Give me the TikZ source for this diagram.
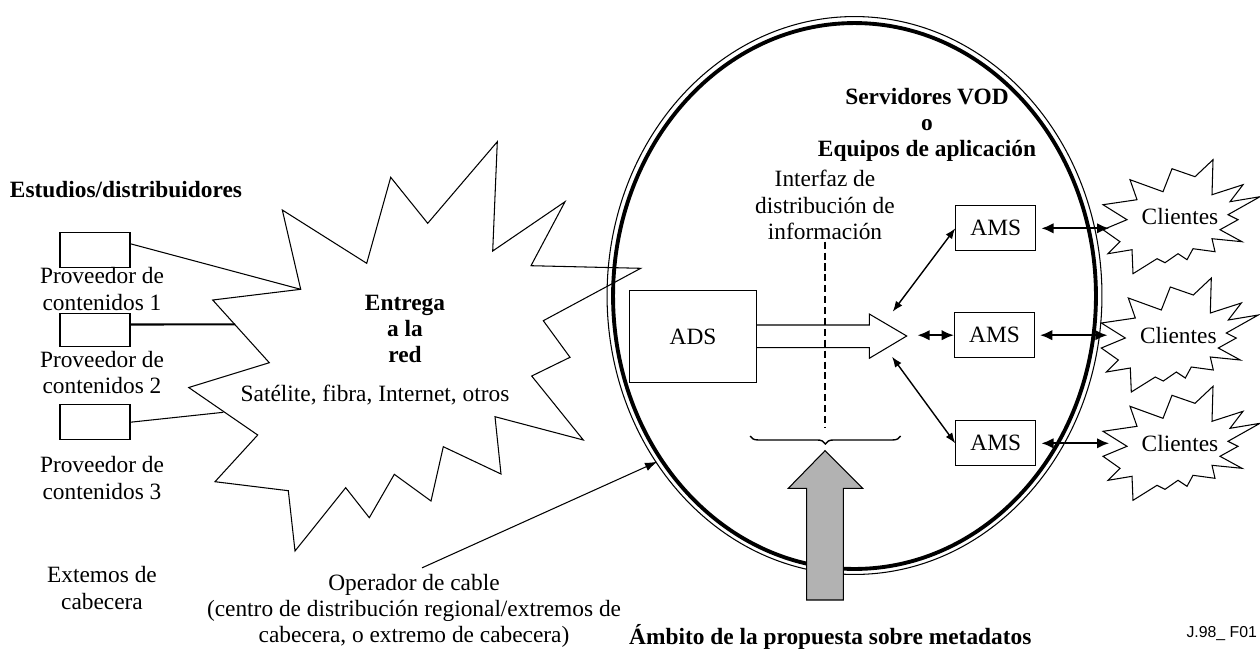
\documentclass[tikz,border=0pt]{standalone}
\usepackage{fontspec}
\setmainfont{Liberation Serif}
\setsansfont{Liberation Sans}
\usetikzlibrary{arrows.meta,decorations.pathreplacing}
\newcommand{\figfont}{\fontsize{13.3pt}{15pt}\selectfont}

\tikzset{
  fine/.style={line width=0.6pt},
  box/.style={draw, fine, inner sep=0pt},
  dbl/.style={line width=1.3pt, {Latex[length=7pt,width=6pt]}-{Latex[length=7pt,width=6pt]}},
  lnk/.style={line width=0.8pt, {Latex[length=6pt,width=4.5pt]}-{Latex[length=6pt,width=4.5pt]}},
}

\begin{document}
\begin{tikzpicture}[x=0.02cm, y=-0.02cm, font=\figfont]
		%%%%% START %%%%%
		\useasboundingbox (0,0) rectangle (1260,653);
		
		% red de entrega
		\draw[fine] (212.7,300) -- (300.7,289.3) coordinate (s1) -- (282.3,210) -- (366.7,263.3)
		  -- (390.7,177.3) -- (427.7,223.3) -- (497.3,141.7) -- (492.7,251) -- (565,201.7)
		  -- (531,265.7) -- (640.7,268.3) -- (543.3,320.7) -- (570,357.3) -- (531.7,376)
		  -- (583.3,440) -- (495,416.7) -- (501,474) -- (443.3,446.7) -- (431,501)
		  -- (394.3,474.3) -- (369.3,517.7) -- (345.7,487.7) -- (295,551) -- (288.3,490.7)
		  -- (215,481.7) -- (257.7,435) -- (188.7,387.5) -- (269.3,362.7) -- cycle;
		\coordinate (s2) at (235,324.3);
		\coordinate (s3) at (223.3,412.3);
		
		\node[font=\figfont\bfseries, align=center] (entrega) at (405,329) {Entrega\\a la\\red};
		\node (medios) at (375,395) {Satélite, fibra, Internet, otros};
		
		% proveedores
		\node[font=\figfont\bfseries] (estudios) at (126,190) {Estudios/distribuidores};
		\node[box, minimum width=1.4cm, minimum height=0.7cm] (prov1) at (95,249.8) {};
		\node[box, minimum width=1.4cm, minimum height=0.67cm] (prov2) at (95,330) {};
		\node[box, minimum width=1.4cm, minimum height=0.69cm] (prov3) at (95,422.2) {};
		\node[align=center] (lab1) at (102,289) {Proveedor de\\contenidos 1};
		\node[align=center] (lab2) at (102,372.5) {Proveedor de\\contenidos 2};
		\node[align=center] (lab3) at (102,478) {Proveedor de\\contenidos 3};
		\node[align=center] (cabec) at (102,588) {Extemos de\\cabecera};
		
		\draw[fine] ([yshift=0.12cm]prov1.east) -- (s1);
		\draw[line width=1.2pt] ([yshift=0.11cm]prov2.east) -- (s2);
		\draw[fine] (prov3.east) -- (s3);
		
		% operador de cable
		\draw[line width=2.2pt] (854.5,296) ellipse [x radius=4.83cm, y radius=5.46cm];
		\draw[fine] (854.5,295.5) ellipse [x radius=4.95cm, y radius=5.58cm];
		
		\node[font=\figfont\bfseries, align=center] (servid) at (927,125) {Servidores VOD\\o\\Equipos de aplicación};
		\node[align=center] (interfaz) at (825,205) {Interfaz de\\distribución de\\información};
		
		\node[box, minimum width=2.55cm, minimum height=1.85cm] (ads) at (693,336.4) {ADS};
		\draw[fine] (756.7,325) -- (869.3,325) -- (869.3,314) -- (906.7,336) -- (869.3,358.3)
		  -- (869.3,347.7) -- (756.7,347.7);
		\draw[line width=0.9pt, dash pattern=on 4pt off 2.2pt] (825,241.7) -- (825,427.3);
		
		\node[box, minimum width=1.6cm, minimum height=0.9cm] (ams1) at (995.8,228.3) {AMS};
		\node[box, minimum width=1.6cm, minimum height=0.9cm] (ams2) at (994.5,335.2) {AMS};
		\node[box, minimum width=1.6cm, minimum height=0.9cm] (ams3) at (995.8,443.3) {AMS};
		
		\coordinate (hubA) at (892.7,311.7);
		\coordinate (hubB) at (917.3,335.2);
		\coordinate (hubC) at (892,356.7);
		\draw[lnk] (hubA) -- (ams1.west);
		\draw[dbl] (hubB) -- (ams2.west);
		\draw[lnk] (hubC) -- (ams3.west);
		
		% clientes
		\foreach \n/\cx/\cy in {1/1180/216.7, 2/1178.3/335, 3/1180/443.3} {
		  \begin{scope}[shift={(\cx,\cy)}]
		    \draw[fine] (-77,-12) -- (-43,-17) -- (-50,-37) -- (-17,-25) -- (-8,-48) -- (15,-40)
		      -- (33,-57) -- (32,-22) -- (63,-32) -- (50,-15) -- (80,-20) -- (48,-2) -- (58,3)
		      -- (40,13) -- (62,25) -- (32,22) -- (35,35) -- (13,32) -- (7,43) -- (-2,37)
		      -- (-15,46) -- (-23,42) -- (-47,57) -- (-48,33) -- (-72,37) -- (-60,25)
		      -- (-77,13) -- (-53,3) -- cycle;
		    \node (cli\n) at (0,0) {Clientes};
		    \coordinate (cl\n) at (-70.7,0);
		  \end{scope}
		}
		\draw[dbl, shorten <=2.8pt] (ams1.east) -- (ams1.east -| cl1);
		\draw[dbl, shorten <=2.8pt] (ams2.east) -- (ams2.east -| cl2);
		\draw[dbl, shorten <=2.8pt] (ams3.east) -- (ams3.east -| cl3);
		
		% ambito
		\draw[line width=0.8pt, decorate, decoration={brace, amplitude=4.5pt}] (900.7,436) -- (750,436);
		\draw[fine, fill=black!30] (806.7,600) -- (806.7,488.3) -- (788.3,488.3) -- (825,450.7)
		  -- (862.7,488.3) -- (843.3,488.3) -- (843.3,600) -- cycle;
		
		\node[align=center] (oper) at (414,611) {Operador de cable\\(centro de distribución regional/extremos de\\cabecera, o extremo de cabecera)};
		\coordinate (borde) at (657.3,461.7);
		\draw[fine, -{Latex[length=7pt,width=5pt]}] ([xshift=0.16cm]oper.north) -- (borde);
		
		\node[font=\figfont\bfseries, anchor=west] (ambito) at (623,637) {Ámbito de la propuesta sobre metadatos};
		\node[font=\sffamily\fontsize{9pt}{10pt}\selectfont, anchor=east, inner sep=1pt] (ref) at (1259,634) {J.98\_ F01};
		%%%%% END %%%%%
\end{tikzpicture}
\end{document}
